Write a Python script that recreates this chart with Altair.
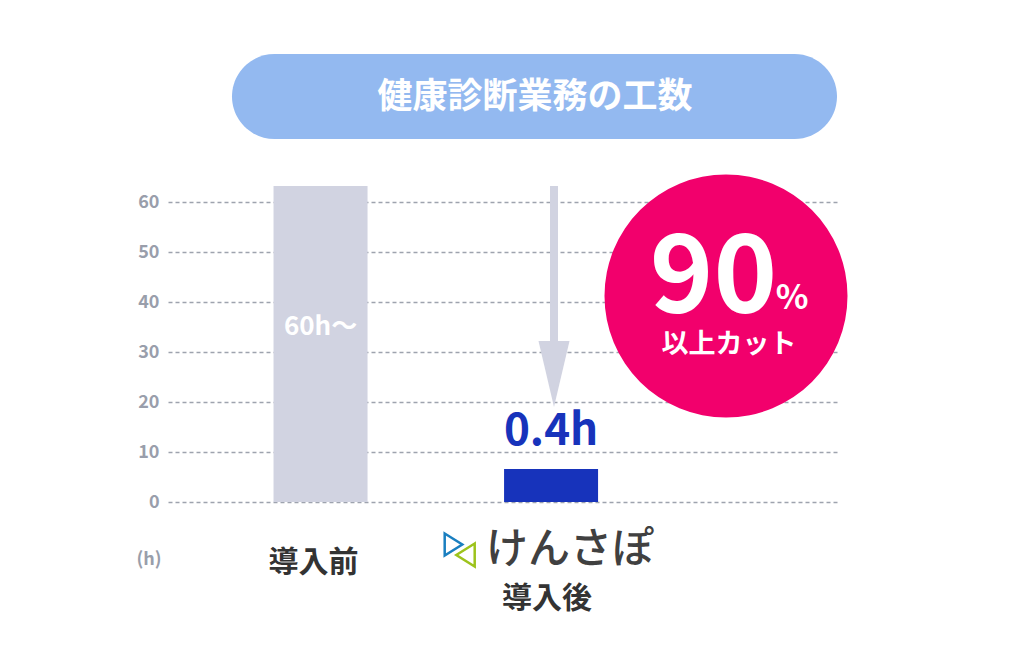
import altair as alt
import pandas as pd

# ---- data ----
categories = ["導入前", "導入後"]
positions = [0, 1]
drawn_hours = [63.2, 6.6]
value_labels = ["60h〜", "0.4h"]
bar_colors = ["#d1d3e1", "#1733bb"]
y_ticks = [0, 10, 20, 30, 40, 50, 60]

title_text = "健康診断業務の工数"
badge_number = "90"
badge_unit = "%"
badge_caption = "以上カット"
logo_text = "けんさぽ"
unit_text = "(h)"

FONT = "Noto Sans CJK JP"

df = pd.DataFrame({
    "cat": categories,
    "pos": positions,
    "hours": drawn_hours,
    "label": value_labels,
    "color": bar_colors,
})

one = alt.Data(values=[{}])

xscale = alt.Scale(domain=[-0.64, 2.223], nice=False, zero=False)
yscale = alt.Scale(domain=[0, 60], nice=False)

bars = alt.Chart(df).mark_bar(orient="vertical", size=94).encode(
    x=alt.X("pos:Q", scale=xscale, axis=None),
    y=alt.Y("hours:Q", scale=yscale, axis=alt.Axis(
        values=y_ticks, grid=True, gridDash=[4, 3], gridColor="#9ea3ae",
        gridWidth=1.5, domain=False, ticks=False, labelFont=FONT,
        labelFontWeight="bold", labelFontSize=18, labelColor="#999eab",
        labelPadding=9, title=None)),
    color=alt.Color("color:N", scale=None),
)

before_label = alt.Chart(df).transform_filter(alt.datum.pos == 0).mark_text(
    font=FONT, fontSize=26, fontWeight="bold", color="white", baseline="middle"
).encode(
    x=alt.X("pos:Q", scale=xscale, axis=None),
    y=alt.value(125),
    text="label:N",
)

after_label = alt.Chart(df).transform_filter(alt.datum.pos == 1).mark_text(
    font=FONT, fontSize=44, fontWeight="bold", color="#1733bb",
    baseline="alphabetic", dy=-24
).encode(
    x=alt.X("pos:Q", scale=xscale, axis=None),
    y=alt.Y("hours:Q", scale=yscale),
    text="label:N",
)

pill = alt.Chart(one).mark_rect(color="#93b9f0", cornerRadius=42.5).encode(
    x=alt.value(64), x2=alt.value(669), y=alt.value(-148), y2=alt.value(-63)
)
title = alt.Chart(one).mark_text(
    font=FONT, fontSize=35, fontWeight="bold", color="white", baseline="middle"
).encode(x=alt.value(367), y=alt.value(-105.5), text=alt.value(title_text))

circle = alt.Chart(one).mark_point(
    shape="circle", filled=True, opacity=1, color="#f2006c", size=59049
).encode(x=alt.value(558), y=alt.value(94))

num = alt.Chart(one).mark_text(
    font=FONT, fontSize=108, fontWeight="bold", color="white", baseline="alphabetic"
).encode(x=alt.value(545.5), y=alt.value(110), text=alt.value(badge_number))
unit = alt.Chart(one).mark_text(
    font=FONT, fontSize=34, fontWeight="bold", color="white", baseline="alphabetic"
).encode(x=alt.value(624), y=alt.value(107), text=alt.value(badge_unit))
caption = alt.Chart(one).mark_text(
    font=FONT, fontSize=27, fontWeight="bold", color="white", baseline="middle"
).encode(x=alt.value(561), y=alt.value(143), text=alt.value(badge_caption))

shaft = alt.Chart(one).mark_rule(color="#d1d3e1", strokeWidth=8).encode(
    x=alt.value(386), y=alt.value(-16), y2=alt.value(143)
)
head = alt.Chart(one).mark_point(
    shape="M-0.47,-1L0.47,-1L0,1Z", filled=True, opacity=1, color="#d1d3e1", size=4356
).encode(x=alt.value(386), y=alt.value(172))

cat_before = alt.Chart(one).mark_text(
    font=FONT, fontSize=30, fontWeight="bold", color="#333333", baseline="middle"
).encode(x=alt.value(145.5), y=alt.value(361), text=alt.value(categories[0]))
cat_after = alt.Chart(one).mark_text(
    font=FONT, fontSize=30, fontWeight="bold", color="#333333", baseline="middle"
).encode(x=alt.value(379), y=alt.value(397), text=alt.value(categories[1]))

logo = alt.Chart(one).mark_text(
    font=FONT, fontSize=42, fontWeight=500, color="#404040", baseline="middle"
).encode(x=alt.value(402), y=alt.value(348), text=alt.value(logo_text))
tri_blue = alt.Chart(one).mark_point(
    shape="M-0.8,-1L0.8,0L-0.8,1Z", filled=False, color="#1a7fc0", strokeWidth=2.5,
    opacity=1, size=484
).encode(x=alt.value(285.5), y=alt.value(342.5))
tri_green = alt.Chart(one).mark_point(
    shape="M0.8,-1L-0.8,0L0.8,1Z", filled=False, color="#9dc31c", strokeWidth=2.5,
    opacity=1, size=529
).encode(x=alt.value(297.5), y=alt.value(353))

unit_lbl = alt.Chart(one).mark_text(
    font=FONT, fontSize=18, fontWeight="bold", color="#999eab", baseline="middle"
).encode(x=alt.value(-19), y=alt.value(358), text=alt.value(unit_text))

chart = alt.layer(
    bars, before_label, after_label, shaft, head, circle, num, unit, caption,
    pill, title, cat_before, cat_after, logo, tri_blue, tri_green, unit_lbl
).properties(
    width=670, height=300,
    autosize=alt.AutoSizeParams(type="none"),
    padding={"left": 160, "top": 194, "right": 170, "bottom": 150},
).configure_view(strokeOpacity=0)

chart.save("out.html", embed_options={"renderer": "svg", "actions": False})
